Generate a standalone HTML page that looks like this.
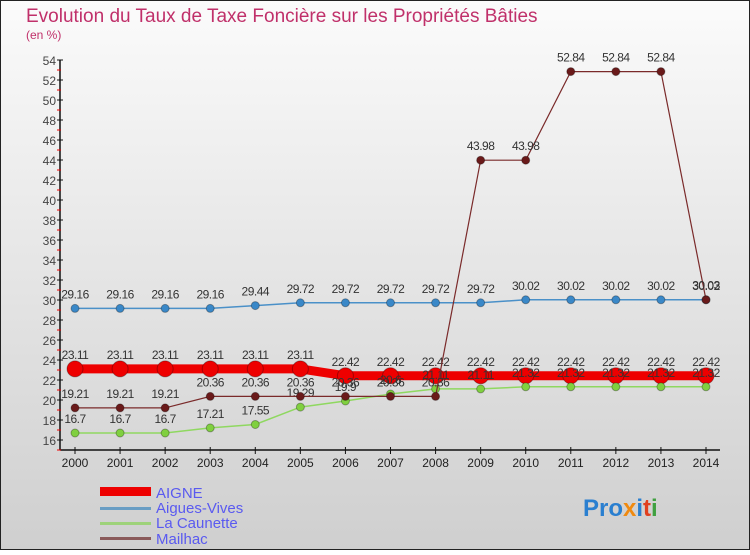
<!DOCTYPE html>
<html><head><meta charset="utf-8"><style>
body{margin:0;}
svg text{font-family:"Liberation Sans",sans-serif;}
</style></head><body>
<svg id="chart" width="750" height="550" xmlns="http://www.w3.org/2000/svg">
<defs><linearGradient id="bg" x1="0" y1="0" x2="0" y2="1"><stop offset="0" stop-color="#fbfbfb"/><stop offset="1" stop-color="#cfcfcf"/></linearGradient></defs>
<rect x="0" y="0" width="750" height="550" fill="url(#bg)" stroke="#222" stroke-width="2"/>
<text x="26" y="22" font-size="19" fill="#c0306a">Evolution du Taux de Taxe Foncière sur les Propriétés Bâties</text>
<text x="26" y="39" font-size="12" fill="#c0306a">(en %)</text>
<g id="axes"></g><g id="series"></g>
<g>
<rect x="100" y="487" width="51" height="9" fill="#e00"/>
<text x="156" y="498" font-size="15" fill="#5a5af0">AIGNE</text>
<rect x="100" y="507" width="51" height="3" fill="#6a9ec4"/>
<text x="156" y="513" font-size="15" fill="#5a5af0">Aigues-Vives</text>
<rect x="100" y="522" width="51" height="3" fill="#9ed27a"/>
<text x="156" y="528" font-size="15" fill="#5a5af0">La Caunette</text>
<rect x="100" y="537" width="51" height="3" fill="#8a5a5a"/>
<text x="156" y="544" font-size="15" fill="#5a5af0">Mailhac</text>
</g>
<text x="583" y="516" font-size="24" font-weight="bold"><tspan fill="#2a7fd0">Pro</tspan><tspan fill="#f08a10">x</tspan><tspan fill="#2a7fd0">i</tspan><tspan fill="#e04020">t</tspan><tspan fill="#40a040">i</tspan></text>
</svg>
<script>
const years=[2000,2001,2002,2003,2004,2005,2006,2007,2008,2009,2010,2011,2012,2013,2014];
const yTicks=[16,18,20,22,24,26,28,30,32,34,36,38,40,42,44,46,48,50,52,54];
const aigne=[23.11,23.11,23.11,23.11,23.11,23.11,22.42,22.42,22.42,22.42,22.42,22.42,22.42,22.42,22.42];
const aiguesVives=[29.16,29.16,29.16,29.16,29.44,29.72,29.72,29.72,29.72,29.72,30.02,30.02,30.02,30.02,30.02];
const laCaunette=[16.7,16.7,16.7,17.21,17.55,19.29,19.9,20.6,21.11,21.11,21.32,21.32,21.32,21.32,21.32];
const mailhac=[19.21,19.21,19.21,20.36,20.36,20.36,20.36,20.36,20.36,43.98,43.98,52.84,52.84,52.84,30.03];
const NS="http://www.w3.org/2000/svg";
const xs=i=>75+i*(706-75)/14;
const ys=v=>440-(v-16)*10;
function mk(t,a,p){const e=document.createElementNS(NS,t);for(const k in a)e.setAttribute(k,a[k]);p.appendChild(e);return e;}
const ax=document.getElementById('axes');
const yl=mk('line',{x1:60,y1:60,x2:60,y2:450,stroke:'#111','stroke-width':1.5},ax);


const xl=mk('line',{x1:60,y1:450,x2:720,y2:450,stroke:'#111','stroke-width':1.5},ax);


yTicks.forEach((v,k)=>{
 mk('line',{x1:57,y1:ys(v),x2:63,y2:ys(v),stroke:'#111'},ax);
 if(k<yTicks.length-1) mk('line',{x1:57,y1:ys(v+1),x2:61,y2:ys(v+1),stroke:'#e00'},ax);
 const t=mk('text',{x:56,y:ys(v)+5,'text-anchor':'end','font-size':12,fill:'#444'},ax);t.textContent=v;
 
 
});
mk('line',{x1:57,y1:ys(15),x2:61,y2:ys(15),stroke:'#e00'},ax);
years.forEach((y,i)=>{
 mk('line',{x1:xs(i),y1:447,x2:xs(i),y2:454,stroke:'#111'},ax);
 const t=mk('text',{x:xs(i),y:467,'text-anchor':'middle','font-size':12,fill:'#222'},ax);t.textContent=y;
 
 
});
const sg=document.getElementById('series');
function series(vals,color,w,r,name,dot){
 const g=mk('g',{},sg);
 
 
 mk('polyline',{points:vals.map((v,i)=>xs(i)+','+ys(v)).join(' '),fill:'none',stroke:color,'stroke-width':w},g);
 vals.forEach((v,i)=>{
  const c=mk('circle',{cx:xs(i),cy:ys(v),r:r,fill:dot,stroke:'rgba(0,0,0,0.3)'},g);
  
  
  const t=mk('text',{x:xs(i),y:ys(v)-10,'text-anchor':'middle','font-size':12,fill:'#333','letter-spacing':'-0.5'},g);t.textContent=v;
  
  
 });
}
series(aigne,'#ee0000',9,8,'aigne','#ee0000');
series(aiguesVives,'#4a90c8',1.5,4,'aigues-vives','#3a88c8');
series(laCaunette,'#8fd860',1.5,4,'la-caunette','#80d040');
series(mailhac,'#7a2a2a',1.2,4,'mailhac','#6a1a1a');
</script>
</body></html>
